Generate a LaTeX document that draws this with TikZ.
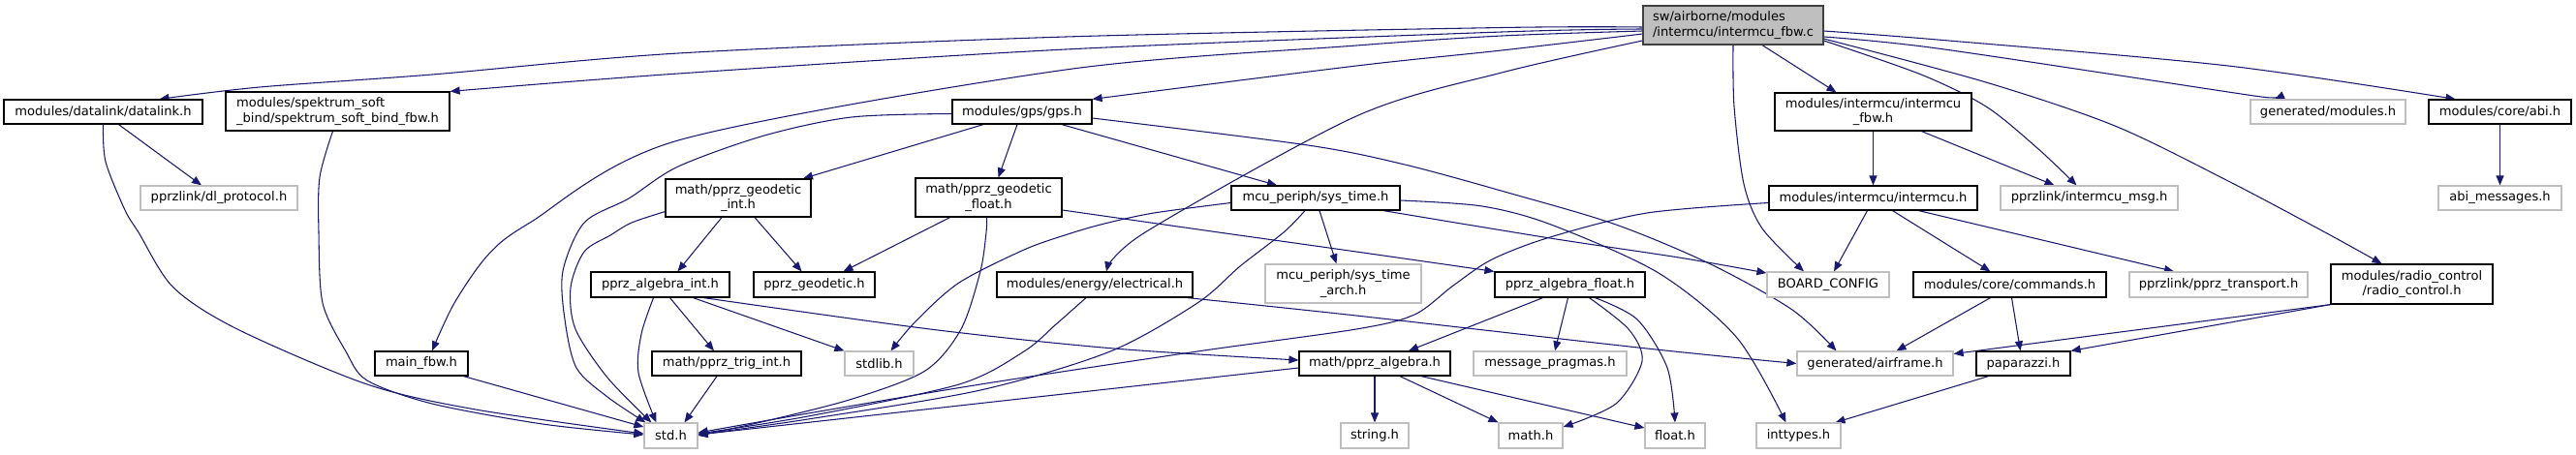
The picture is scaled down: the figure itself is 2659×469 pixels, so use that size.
\documentclass[tikz,border=0pt]{standalone}
\usepackage{fontspec}
\setmainfont{DejaVu Sans}
\usetikzlibrary{arrows.meta,calc}
\definecolor{edgeblue}{HTML}{191970}
\definecolor{undoc}{HTML}{BFBFBF}
\definecolor{mainfill}{HTML}{BFBFBF}
\definecolor{mainborder}{HTML}{404040}
\newcommand\nfs{\fontsize{9.8}{11.5}\selectfont}
\pgfdeclarelayer{bg}
\pgfsetlayers{bg,main}
\tikzset{
  nd/.style={draw=black, fill=white, line width=0.9pt, inner sep=0pt, font=\nfs, text=black},
  gr/.style={nd, draw=undoc},
  mn/.style={nd, fill=mainfill, draw=mainborder},
  sz/.style 2 args={minimum width=#1*0.75pt, minimum height=#2*0.75pt},
  edge/.style={draw=edgeblue, line width=0.8pt, -{Triangle[length=7.5pt,width=6pt]}},
}
\begin{document}
\begin{tikzpicture}[x=0.75pt,y=-0.75pt]
\useasboundingbox (0,0) rectangle (2659,469);
% row 0
\node[mn, sz={186}{40}, align=left] (main) at (1789,26) {sw/airborne/modules\\/intermcu/intermcu\_fbw.c};
% row 1
\node[nd, sz={205}{25}] (dl) at (106.5,115.5) {modules/datalink/datalink.h};
\node[nd, sz={231}{40}, align=left] (spk) at (348.5,115) {modules/spektrum\_soft\\\_bind/spektrum\_soft\_bind\_fbw.h};
\node[nd, sz={144}{25}] (gps) at (1055,115.5) {modules/gps/gps.h};
\node[nd, sz={203}{39}, align=center] (imfbw) at (1933.5,115.5) {modules/intermcu/intermcu\\\_fbw.h};
\node[gr, sz={160}{25}] (gmod) at (2403,115.5) {generated/modules.h};
\node[nd, sz={147}{25}] (abi) at (2580.5,115.5) {modules/core/abi.h};
% row 2
\node[gr, sz={162}{25}] (dlp) at (226,204.5) {pprzlink/dl\_protocol.h};
\node[nd, sz={150}{39}, align=center] (gint) at (762,204.5) {math/pprz\_geodetic\\\_int.h};
\node[nd, sz={151}{40}, align=center] (gflt) at (1020.5,204) {math/pprz\_geodetic\\\_float.h};
\node[nd, sz={174}{25}] (syst) at (1358,204.5) {mcu\_periph/sys\_time.h};
\node[nd, sz={215}{25}] (imcu) at (1933.5,204.5) {modules/intermcu/intermcu.h};
\node[gr, sz={183}{25}] (imsg) at (2156.5,204.5) {pprzlink/intermcu\_msg.h};
\node[gr, sz={127}{25}] (abim) at (2580.5,204.5) {abi\_messages.h};
% row 3
\node[nd, sz={143}{26}] (aint) at (681.5,294) {pprz\_algebra\_int.h};
\node[nd, sz={125}{26}] (geo) at (840.5,294) {pprz\_geodetic.h};
\node[nd, sz={202}{26}] (elec) at (1130,294) {modules/energy/electrical.h};
\node[gr, sz={161}{40}, align=center] (sarch) at (1386.5,293) {mcu\_periph/sys\_time\\\_arch.h};
\node[nd, sz={155}{26}] (aflt) at (1620.5,294) {pprz\_algebra\_float.h};
\node[gr, sz={126}{26}] (board) at (1887,294) {BOARD\_CONFIG};
\node[nd, sz={199}{26}] (cmd) at (2074.5,294) {modules/core/commands.h};
\node[gr, sz={184}{26}] (ptr) at (2290,294) {pprzlink/pprz\_transport.h};
\node[nd, sz={167}{41}, align=center] (rc) at (2489.5,293.5) {modules/radio\_control\\/radio\_control.h};
% row 4
\node[nd, sz={96}{25}] (mfbw) at (435,375.5) {main\_fbw.h};
\node[nd, sz={154}{25}] (trig) at (750,375.5) {math/pprz\_trig\_int.h};
\node[gr, sz={71}{25}] (stdlib) at (907.5,375.5) {stdlib.h};
\node[nd, sz={156}{25}] (alg) at (1419,375.5) {math/pprz\_algebra.h};
\node[gr, sz={158}{25}] (msgp) at (1600,375.5) {message\_pragmas.h};
\node[gr, sz={161}{25}] (airf) at (1935.5,375.5) {generated/airframe.h};
\node[nd, sz={97}{25}] (papa) at (2088.5,375.5) {paparazzi.h};
% row 5
\node[gr, sz={55}{26}] (std) at (692.5,450) {std.h};
\node[gr, sz={70}{26}] (str) at (1419,450) {string.h};
\node[gr, sz={66}{26}] (mathh) at (1580,450) {math.h};
\node[gr, sz={62}{26}] (floath) at (1729,450) {float.h};
\node[gr, sz={87}{26}] (intt) at (1856.5,450) {inttypes.h};

\begin{pgfonlayer}{bg}
% from main
\draw[edge] plot[smooth] coordinates {($(main.west)+(0,2)$) (1550,28.5) (1100,38) (700,55) (446,77) (268,90) ($(dl.north)+(58,0)$)};
\draw[edge] plot[smooth] coordinates {($(main.west)+(0,4)$) (1550,33) (1100,51) (700,76) (spk.north east)};
\draw[edge] plot[smooth] coordinates {($(main.west)+(0,6)$) (1550,37) (1400,47) (1100,72) (700,145) (547,230) (504,263) (469,313) ($(mfbw.north)+(11,0)$)};
\draw[edge] plot[smooth] coordinates {($(main.west)+(0,9)$) (1550,52) (1400,68) (gps.north east)};
\draw[edge] plot[smooth] coordinates {($(main.west)+(0,16)$) (1550,75) (1400,120) (1182,240) ($(elec.north)+(12,0)$)};
\draw[edge] plot[smooth] coordinates {(main.south) (1790,110) (1800,190) (1819,236) ($(board.north)+(-25,0)$)};
\draw[edge] ($(main.south)+(30,0)$) -- ($(imfbw.north)+(-38,0)$);
\draw[edge] plot[smooth] coordinates {($(main.east)+(0,16)$) (1983,77) (2050,110) (2103,153) ($(imsg.north)+(-13,0)$)};
\draw[edge] plot[smooth] coordinates {($(main.east)+(0,12)$) (2000,50) (2300,95) ($(gmod.north)+(-55,0)$)};
\draw[edge] plot[smooth] coordinates {($(main.east)+(0,6)$) (2000,41) (2300,68) ($(abi.north)+(-46,0)$)};
\draw[edge] plot[smooth] coordinates {($(main.east)+(0,14)$) (2050,85) (2183,130) (2300,187) (2400,240) ($(rc.north)+(-31,0)$)};
% intermcu
\draw[edge] (imfbw.south) -- (imcu.north);
\draw[edge] ($(imfbw.south)+(50,0)$) -- ($(imsg.north)+(-36,0)$);
\draw[edge] (abi.south) -- (abim.north);
\draw[edge] ($(imcu.south)+(-6,0)$) -- ($(board.north)+(6,0)$);
\draw[edge] ($(imcu.south)+(20,0)$) -- ($(cmd.north)+(-20,0)$);
\draw[edge] ($(imcu.south)+(47,0)$) -- ($(ptr.north)+(-46,0)$);
\draw[edge] plot[smooth] coordinates {($(imcu.west)+(0,5)$) (1700,220) (1600,245) (1540,268) (1500,295) (1460,325) (1400,340) (1236,363) (1012,397) (834,427) ($(std.east)+(0,-3)$)};
% datalink, spektrum, main_fbw
\draw[edge] ($(dl.south)+(16,0)$) -- ($(dlp.north)+(-18,0)$);
\draw[edge] plot[smooth] coordinates {(dl.south) (109,167) (129,217) (143,240) (179,297) (245,340) (379,397) (491,423) ($(std.west)+(0,-2)$)};
\draw[edge] plot[smooth] coordinates {($(spk.south)+(-5,0)$) (330,183) (329,240) (333,313) (357,363) (379,393) (446,417) (560,438) ($(std.west)+(0,-1)$)};
\draw[edge] ($(mfbw.south east)+(-5,0)$) -- ($(std.west)+(0,-9)$);
% gps
\draw[edge] ($(gps.south)+(-40,0)$) -- ($(gint.north)+(67,0)$);
\draw[edge] ($(gps.south)+(-5,0)$) -- ($(gflt.north)+(10,0)$);
\draw[edge] ($(gps.south)+(41,0)$) -- ($(syst.north)+(-40,0)$);
\draw[edge] plot[smooth] coordinates {($(gps.west)+(0,2)$) (879,121) (789,140) (700,172) (649,205) (603,230) (581,280) (583,330) (595,380) (627,410) ($(std.north west)+(2,0)$)};
\draw[edge] plot[smooth] coordinates {($(gps.east)+(0,6.5)$) (1350,150) (1450,170) (1560,200) (1668,232) (1766,273) (1850,320) ($(airf.north)+(-40,0)$)};
% geodetic
\draw[edge] ($(gint.south)+(-17,0)$) -- ($(aint.north)+(18,0)$);
\draw[edge] ($(gint.south)+(17,0)$) -- ($(geo.north)+(-13,0)$);
\draw[edge] plot[smooth] coordinates {($(gint.south west)+(0,-6)$) (652,230) (630,243) (603,260) (589,297) (594,340) (627,390) ($(std.north west)+(8,0)$)};
\draw[edge] ($(gflt.south)+(-40,0)$) -- ($(geo.north)+(30,0)$);
\draw[edge] plot[smooth] coordinates {($(gflt.south)+(-2,0)$) (1018,240) (1012,280) (992,340) (955,383) (880,412) (790,435) (std.east)};
\draw[edge] plot[smooth] coordinates {($(gflt.east)+(0,13)$) (1258,240) (1400,260) (aflt.north west)};
% sys_time
\draw[edge] ($(syst.south)+(4,0)$) -- ($(sarch.north)+(-7,0)$);
\draw[edge] plot[smooth] coordinates {($(syst.south)+(-11,0)$) (1325,240) (1280,275) (1236,313) (1146,363) (1012,403) (834,433) ($(std.east)+(0,-1)$)};
\draw[edge] plot[smooth] coordinates {($(syst.west)+(0,5)$) (1191,220) (1140,231) (1102,242) (1057,258) (990,292) (946,331) ($(stdlib.north)+(12,0)$)};
\draw[edge] plot[smooth] coordinates {($(syst.south)+(70,0)$) (1600,246) (1733,266) ($(board.west)+(0,-12)$)};
\draw[edge] plot[smooth] coordinates {($(syst.east)+(0,2.5)$) (1530,213) (1601,232) (1712,282) (1793,349) ($(intt.north)+(-13,0)$)};
% electrical
\draw[edge] plot[smooth] coordinates {($(elec.south)+(-9,0)$) (1090,335) (1057,363) (990,397) (834,430) ($(std.east)+(0,-2)$)};
\draw[edge] plot[smooth] coordinates {($(elec.south east)+(-6,0)$) (1400,326) (1700,360) (airf.west)};
% algebra int
\draw[edge] plot[smooth] coordinates {($(aint.south)+(-7,0)$) (662,345) (659,385) ($(std.north west)+(13,0)$)};
\draw[edge] ($(aint.south)+(10,0)$) -- ($(trig.north)+(-13,0)$);
\draw[edge] ($(aint.south)+(34,0)$) -- (stdlib.north west);
\draw[edge] plot[smooth] coordinates {($(aint.south)+(45,0)$) (960,340) (1150,360) ($(alg.west)+(0,-3.5)$)};
\draw[edge] ($(trig.south)+(-10,0)$) -- ($(std.north)+(14,0)$);
% algebra float
\draw[edge] ($(aflt.south)+(-28,0)$) -- ($(alg.north)+(35,0)$);
\draw[edge] ($(aflt.south)+(-2,0)$) -- ($(msgp.north)+(5,0)$);
\draw[edge] plot[smooth] coordinates {($(aflt.south)+(20,0)$) (1681,340) (1695,373) (1668,417) ($(mathh.east)+(0,-9)$)};
\draw[edge] plot[smooth] coordinates {($(aflt.south)+(26,0)$) (1690,330) (1721,380) (floath.north)};
% algebra
\draw[edge] (alg.south) -- (str.north);
\draw[edge] ($(alg.south)+(26,0)$) -- (mathh.north west);
\draw[edge] ($(alg.south)+(48,0)$) -- ($(floath.west)+(0,-8)$);
\draw[edge] ($(alg.west)+(0,4.5)$) -- ($(std.east)+(0,-1)$);
% commands, radio, paparazzi
\draw[edge] ($(cmd.south)+(-20,0)$) -- ($(airf.north)+(22,0)$);
\draw[edge] ($(cmd.south)+(2,0)$) -- ($(papa.north)+(-3,0)$);
\draw[edge] (rc.south west) -- ($(airf.east)+(0,-10)$);
\draw[edge] (rc.south west) -- (papa.north east);
\draw[edge] ($(papa.south)+(-36,0)$) -- ($(intt.north)+(38,0)$);
\end{pgfonlayer}
\end{tikzpicture}
\end{document}
